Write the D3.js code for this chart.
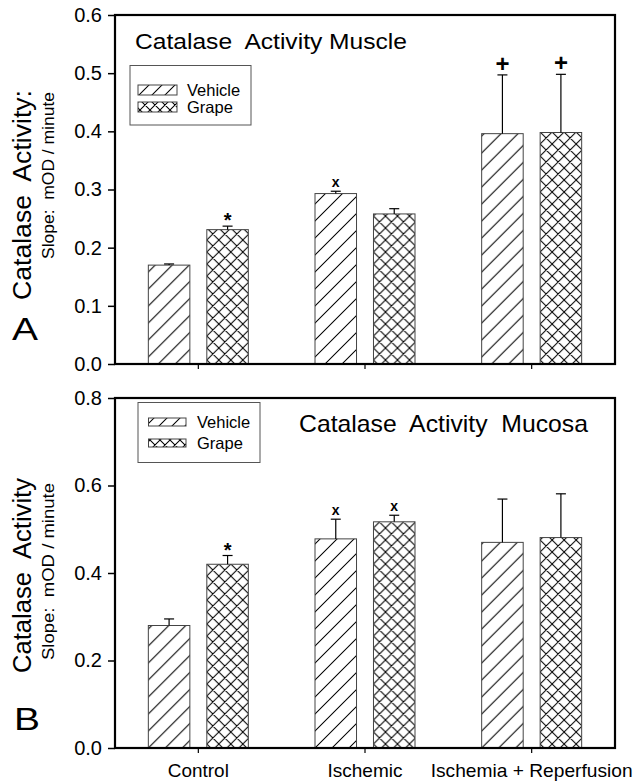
<!DOCTYPE html>
<html>
<head>
<meta charset="utf-8">
<script src="https://cdn.jsdelivr.net/npm/d3@7"></script>
<style>
  body { margin: 0; background: #fff; }
  text { font-family: "Liberation Sans", Arial, sans-serif; white-space: pre; }
</style>
</head>
<body>
<script>
/* catalase activity, two panels */
var groups = ["Control", "Ischemic", "Ischemia + Reperfusion"];
var series = ["Vehicle", "Grape"];

var muscleVehicle    = [0.170, 0.293, 0.396];
var muscleGrape      = [0.231, 0.258, 0.398];
var muscleVehicleErr = [0.002, 0.004, 0.101];
var muscleGrapeErr   = [0.006, 0.009, 0.100];
var muscleVehicleMark = ["", "x", "+"];
var muscleGrapeMark   = ["*", "", "+"];
var muscleTicks = [0.0, 0.1, 0.2, 0.3, 0.4, 0.5, 0.6];

var mucosaVehicle    = [0.280, 0.478, 0.470];
var mucosaGrape      = [0.420, 0.517, 0.481];
var mucosaVehicleErr = [0.015, 0.045, 0.099];
var mucosaGrapeErr   = [0.020, 0.015, 0.100];
var mucosaVehicleMark = ["", "x", ""];
var mucosaGrapeMark   = ["*", "x", ""];
var mucosaTicks = [0.0, 0.2, 0.4, 0.6, 0.8];

var svg = d3.select("body").append("svg")
            .attr("width", 636)
            .attr("height", 784);

/* hatch patterns */
var defs = svg.append("defs");
function hatch(id, s, cross) {
  var p = defs.append("pattern")
              .attr("id", id)
              .attr("patternUnits", "userSpaceOnUse")
              .attr("width", s).attr("height", s);
  var d = "M0," + s + " L" + s + ",0 M-2,2 L2,-2 M" + (s-2) + "," + (s+2) + " L" + (s+2) + "," + (s-2);
  if (cross) d += " M0,0 L" + s + "," + s + " M-2," + (s-2) + " L2," + (s+2) + " M" + (s-2) + ",-2 L" + (s+2) + ",2";
  p.append("path").attr("d", d).attr("stroke", "#000").attr("stroke-width", 1.05).attr("fill", "none");
}
hatch("hVehicle", 17, false);
hatch("hGrape", 12, true);
hatch("lVehicle", 13, false);
hatch("lGrape", 10, true);

var x = d3.scaleBand().domain(groups).range([115, 615]);
var xs = d3.scaleBand().domain(series)
           .range([x.bandwidth() * 0.2, x.bandwidth() * 0.8])
           .paddingInner(0.29);

function panel(opt) {
  var y = d3.scaleLinear().domain(opt.domain).range(opt.range);
  var g = svg.append("g");

  var rows = [];
  groups.forEach(function(c, i) {
    rows.push({ g: c, s: "Vehicle", v: opt.vehicle[i], e: opt.vehicleErr[i], m: opt.vehicleMark[i] });
    rows.push({ g: c, s: "Grape", v: opt.grape[i], e: opt.grapeErr[i], m: opt.grapeMark[i] });
  });

  var bars = g.selectAll("g.bar").data(rows).enter().append("g")
              .attr("transform", function(d) { return "translate(" + (x(d.g) + xs(d.s)) + ",0)"; });
  bars.append("rect")
      .attr("y", function(d) { return y(d.v); })
      .attr("width", xs.bandwidth())
      .attr("height", function(d) { return y(0) - y(d.v); })
      .attr("fill", function(d) { return d.s == "Vehicle" ? "url(#hVehicle)" : "url(#hGrape)"; })
      .attr("stroke", "#444").attr("stroke-width", 1);
  // upper error bars
  bars.append("line")
      .attr("x1", xs.bandwidth() / 2).attr("x2", xs.bandwidth() / 2)
      .attr("y1", function(d) { return y(d.v); })
      .attr("y2", function(d) { return y(d.v + d.e); })
      .attr("stroke", "#000").attr("stroke-width", 1.2);
  bars.append("line")
      .attr("x1", xs.bandwidth() / 2 - 5).attr("x2", xs.bandwidth() / 2 + 5)
      .attr("y1", function(d) { return y(d.v + d.e); })
      .attr("y2", function(d) { return y(d.v + d.e); })
      .attr("stroke", "#000").attr("stroke-width", 1.2);
  bars.append("text")
      .attr("x", xs.bandwidth() / 2)
      .attr("y", function(d) {
        if (d.m == "*") return y(d.v + d.e) + 1;
        if (d.m == "+") return y(d.v + d.e) - 3;
        return y(d.v + d.e) - 4;
      })
      .attr("text-anchor", "middle")
      .style("font-size", function(d) { return d.m == "+" ? "24px" : (d.m == "*" ? "20px" : "14px"); })
      .style("font-weight", "bold")
      .text(function(d) { return d.m; });

  // axes
  var yAxis = g.append("g").attr("transform", "translate(115,0)")
               .call(d3.axisLeft(y).tickValues(opt.ticks).tickFormat(d3.format(".1f")).tickSize(7).tickPadding(6));
  yAxis.select(".domain").remove();
  yAxis.selectAll("line").attr("stroke-width", 1.5);
  yAxis.selectAll("text").style("font-size", "20px").attr("fill", "#000");

  var xAxis = g.append("g").attr("transform", "translate(0," + opt.range[0] + ")")
               .call(d3.axisBottom(x).tickSize(5).tickFormat(opt.showX ? null : ""));
  xAxis.select(".domain").remove();
  xAxis.selectAll("line").attr("stroke-width", 1.2);
  xAxis.selectAll("text").style("font-size", "18.5px").attr("fill", "#000").attr("y", 29)
       .attr("dy", null)
       .attr("textLength", function(d) { return opt.xLen[groups.indexOf(d)]; })
       .attr("lengthAdjust", "spacingAndGlyphs");

  // frame
  g.append("rect")
   .attr("x", 115).attr("y", opt.range[1])
   .attr("width", 500).attr("height", opt.range[0] - opt.range[1])
   .attr("fill", "none").attr("stroke", "#000").attr("stroke-width", 2.2);

  // title
  g.append("text").attr("x", opt.title[1]).attr("y", opt.title[2])
   .style("font-size", opt.title[3] + "px")
   .attr("textLength", opt.title[4]).attr("lengthAdjust", "spacingAndGlyphs")
   .text(opt.title[0]);

  // legend
  var L = opt.legend;
  g.append("rect").attr("x", L.x).attr("y", L.y).attr("width", L.w).attr("height", L.h)
   .attr("fill", "#fff").attr("stroke", "#555").attr("stroke-width", 1);
  series.forEach(function(s, i) {
    g.append("rect").attr("x", L.sx).attr("y", L.rows[i] - L.sh / 2)
     .attr("width", L.sw).attr("height", L.sh)
     .attr("fill", i == 0 ? "url(#lVehicle)" : "url(#lGrape)")
     .attr("stroke", "#444").attr("stroke-width", 1);
    g.append("text").attr("x", L.tx).attr("y", L.rows[i] + 6)
     .style("font-size", "16.5px").text(s);
  });

  // y titles
  g.append("text")
   .attr("transform", "translate(31," + opt.ytitle[0] + ") rotate(-90)")
   .attr("text-anchor", "middle").style("font-size", "25px")
   .attr("textLength", opt.ytitle[1]).attr("lengthAdjust", "spacingAndGlyphs")
   .text(opt.ytitle[2]);
  g.append("text")
   .attr("transform", "translate(54," + opt.ysub[0] + ") rotate(-90)")
   .attr("text-anchor", "middle").style("font-size", "16px")
   .attr("textLength", opt.ysub[1]).attr("lengthAdjust", "spacingAndGlyphs")
   .text("Slope:  mOD / minute");

  g.append("text").attr("x", opt.letter[1]).attr("y", opt.letter[2])
   .style("font-size", "32px")
   .attr("textLength", 26).attr("lengthAdjust", "spacingAndGlyphs")
   .text(opt.letter[0]);
}

panel({
  domain: [0, 0.6], range: [364, 15], ticks: muscleTicks,
  vehicle: muscleVehicle, grape: muscleGrape,
  vehicleErr: muscleVehicleErr, grapeErr: muscleGrapeErr,
  vehicleMark: muscleVehicleMark, grapeMark: muscleGrapeMark,
  showX: false, xLen: [61, 75, 202],
  title: ["Catalase  Activity Muscle", 135, 49, 22, 272],
  legend: { x: 130, y: 65.5, w: 121, h: 59.5, sx: 138, sw: 39, sh: 10, tx: 187, rows: [90, 107] },
  ytitle: [195, 210, "Catalase  Activity:"],
  ysub: [175.5, 167],
  letter: ["A", 12, 340]
});

panel({
  domain: [0, 0.8], range: [748, 398], ticks: mucosaTicks,
  vehicle: mucosaVehicle, grape: mucosaGrape,
  vehicleErr: mucosaVehicleErr, grapeErr: mucosaGrapeErr,
  vehicleMark: mucosaVehicleMark, grapeMark: mucosaGrapeMark,
  showX: true, xLen: [61, 75, 202],
  title: ["Catalase  Activity  Mucosa", 299, 432, 24, 289],
  legend: { x: 138, y: 402.5, w: 122, h: 60, sx: 148.5, sw: 37.5, sh: 8, tx: 197, rows: [422, 443] },
  ytitle: [575.5, 195, "Catalase  Activity"],
  ysub: [571.5, 177],
  letter: ["B", 14, 730]
});
</script>
</body>
</html>
